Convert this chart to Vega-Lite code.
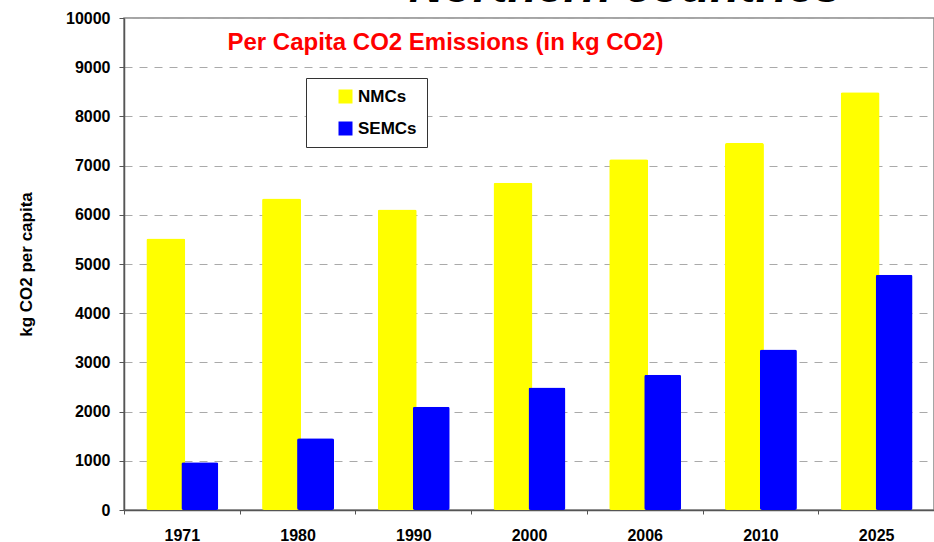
{
  "$schema": "https://vega.github.io/schema/vega-lite/v6.json",
  "width": 810,
  "height": 492,
  "autosize": "none",
  "padding": {"left": 124, "top": 18, "right": 0, "bottom": 32},
  "config": {
    "font": "Liberation Sans",
    "view": {"stroke": "#888888", "strokeWidth": 1.5},
    "axis": {"labelFont": "Liberation Sans", "titleFont": "Liberation Sans"}
  },
  "title": {
    "text": "Northern countries",
    "frame": "group",
    "anchor": "middle",
    "dx": 96,
    "dy": 40,
    "offset": 0,
    "baseline": "alphabetic",
    "fontSize": 48,
    "fontStyle": "italic",
    "fontWeight": "bold",
    "color": "#000000"
  },
  "data": {
    "values": [
      {"year": "1971", "series": "NMCs", "value": 5520},
      {"year": "1980", "series": "NMCs", "value": 6330},
      {"year": "1990", "series": "NMCs", "value": 6110},
      {"year": "2000", "series": "NMCs", "value": 6650},
      {"year": "2006", "series": "NMCs", "value": 7130},
      {"year": "2010", "series": "NMCs", "value": 7460},
      {"year": "2025", "series": "NMCs", "value": 8490},
      {"year": "1971", "series": "SEMCs", "value": 970},
      {"year": "1980", "series": "SEMCs", "value": 1460},
      {"year": "1990", "series": "SEMCs", "value": 2100},
      {"year": "2000", "series": "SEMCs", "value": 2490},
      {"year": "2006", "series": "SEMCs", "value": 2750},
      {"year": "2010", "series": "SEMCs", "value": 3260},
      {"year": "2025", "series": "SEMCs", "value": 4780}
    ]
  },
  "encoding": {
    "y": {
      "field": "value",
      "type": "quantitative",
      "scale": {"domain": [0, 10000], "nice": false},
      "axis": {
        "title": "kg CO2 per capita",
        "titleFontSize": 17,
        "titleFontWeight": "bold",
        "titleColor": "#000000",
        "titlePadding": 30,
        "values": [0, 1000, 2000, 3000, 4000, 5000, 6000, 7000, 8000, 9000, 10000],
        "format": "d",
        "labelFontSize": 16,
        "labelFontWeight": "bold",
        "labelColor": "#000000",
        "labelPadding": 9,
        "tickSize": 5,
        "tickColor": "#555555",
        "domainColor": "#555555",
        "domainWidth": 1.5,
        "grid": true,
        "gridColor": "#aaaaaa",
        "gridDash": [8, 7],
        "gridWidth": 1
      }
    },
    "color": {
      "field": "series",
      "type": "nominal",
      "scale": {"domain": ["NMCs", "SEMCs"], "range": ["#FFFF00", "#0000FF"]},
      "legend": {
        "title": null,
        "orient": "none",
        "legendX": 182,
        "legendY": 60,
        "padding": 10,
        "symbolOffset": 21,
        "fillColor": "#ffffff",
        "strokeColor": "#333333",
        "symbolType": "square",
        "symbolSize": 196,
        "symbolStrokeWidth": 0,
        "labelFontSize": 17,
        "labelFontWeight": "bold",
        "labelColor": "#000000",
        "labelOffset": 4,
        "rowPadding": 14
      }
    }
  },
  "layer": [
    {
      "transform": [{"filter": "datum.series === 'NMCs'"}],
      "mark": {"type": "bar", "width": 39, "xOffset": -16, "cornerRadius": 2},
      "encoding": {
        "x": {
          "field": "year",
          "type": "ordinal",
          "scale": {"paddingInner": 0, "paddingOuter": 0},
          "axis": {
            "title": null,
            "labelAngle": 0,
            "labelFontSize": 16,
            "labelFontWeight": "bold",
            "labelColor": "#000000",
            "labelPadding": 13,
            "tickSize": 4,
            "tickBand": "extent",
            "tickColor": "#555555",
            "domainColor": "#555555",
            "domainWidth": 1.5
          }
        }
      }
    },
    {
      "transform": [{"filter": "datum.series === 'SEMCs'"}],
      "mark": {"type": "bar", "width": 37, "xOffset": 18, "cornerRadius": 2},
      "encoding": {
        "x": {
          "field": "year",
          "type": "ordinal",
          "scale": {"paddingInner": 0, "paddingOuter": 0},
          "axis": {
            "orient": "top",
            "labels": false,
            "ticks": false,
            "domain": false,
            "grid": false,
            "title": "Per Capita CO2 Emissions (in kg CO2)",
            "titleColor": "#ff0000",
            "titleFontSize": 24,
            "titleFontWeight": "bold",
            "titleX": 321,
            "titleY": 31,
            "titleAlign": "center",
            "titleBaseline": "alphabetic",
            "titleAngle": 0
          }
        }
      }
    }
  ],
  "resolve": {"axis": {"x": "independent"}}
}
